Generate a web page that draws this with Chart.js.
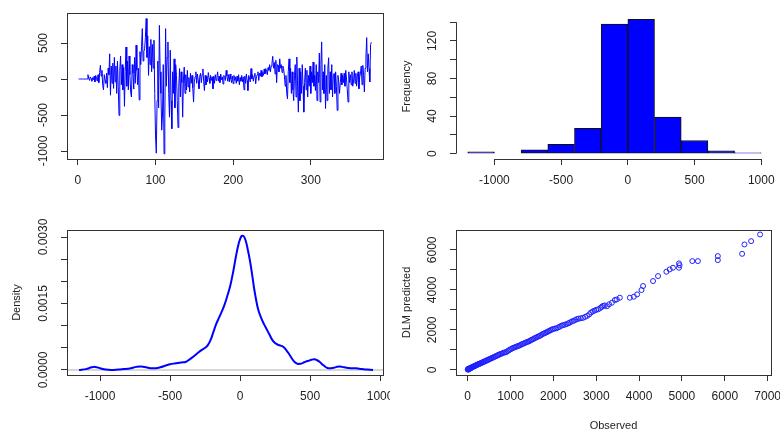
<!DOCTYPE html>
<html>
<head>
<meta charset="utf-8">
<title>DLM residuals</title>
<script src="https://cdn.jsdelivr.net/npm/chart.js@4.4.1/dist/chart.umd.min.js"></script>
<style>
    html, body { margin: 0; padding: 0; background: #fff; }
    #wrap { position: relative; width: 780px; height: 433px; overflow: hidden; }
    #wrap canvas { position: absolute; }
</style>
</head>
<body>
<div id="wrap">
    <canvas id="c1" width="390" height="216" style="left:0;top:0"></canvas>
    <canvas id="c2" width="390" height="216" style="left:390px;top:0"></canvas>
    <canvas id="c3" width="390" height="217" style="left:0;top:216px"></canvas>
    <canvas id="c4" width="390" height="217" style="left:390px;top:216px"></canvas>
</div>
<script>
// Panel 1: residual series
const tsValues = [
    0, 0, 0, 0, 0, 0, 0, 0, 0, 0, 0, 0,
    60, 10, -20, 30, 5, -30, 20, -10,
    40, -40, 50, 10, -30, 60, -50, 90, 190, 40,
    120, -90, -150, 60, -20, -60, 80, -120, 150, 60,
    350, -225, 180, -60, 220, -130, 300, -40, 180, -200,
    250, -100, -505, 120, 320, -80, 200, -150, 160, -380,
    100, 445, -100, 250, -150, 320, 60, -180, -250, 200,
    80, -140, 300, -60, 470, 120, -80, 150, -290, 380,
    200, 450, 700, 250, 380, 420, 580, 840, 300, 600,
    50, 450, 200, 550, 100, 480, 150, 540, -200, -780,
    -1030, -300, 250, -400, 745, 100, -200, -710, -500, 200,
    -1040, -600, 700, -100, 300, 515, -200, -530, 400, -300,
    -690, 100, -200, 280, -400, 200, 50, -300, -675, -100,
    145, -250, 100, -50, -530, 0, 165, -200, 60, -150,
    120, -110, 20, -180, 80, -60, 50, -120, -320, -40,
    30, 100, -60, 70, -20, -135, 40, 80, -50, 60,
    140, -30, -160, 50, -80, 40, -40, 90, 10, -60,
    50, -20, 30, -135, 40, -60, 60, -20, 20, 100,
    -30, 40, -50, 70, -10, 30, -70, 50, 20, -20,
    120, 40, -30, 60, -40, 70, 0, -50, 40, -65,
    50, -20, 30, -60, 40, -30, 60, -80, 20, -30,
    50, -40, 30, -150, 40, -60, 70, -20, -160, 50,
    20, -40, 145, 0, 60, -30, 40, 80, -65, 30,
    60, 100, -20, 80, 40, 120, 30, 90, 50, 140,
    70, 145, 110, 60, 160, 120, 200, 100, 180, 220,
    315, 150, 230, 70, 260, -50, 200, 190, 100, 280,
    150, 200, 90, 180, 145, 40, -100, 50, -200, -275,
    100, 280, -50, 150, -200, 100, -150, -300, 50, 200,
    -250, 305, -100, -460, 150, -300, 100, -200, 200, -100,
    -460, -50, 150, -150, 120, -250, 50, -100, 180, -200,
    100, -50, 235, -100, 50, -160, 200, -300, 100, -50,
    360, -320, 200, 515, -150, 100, -200, 200, -410, 50,
    -300, 150, 295, -200, 100, -150, 200, -250, 50, 75,
    -200, 100, -100, -435, 50, -40, -200, -50, 80, -80,
    50, -50, 80, -100, 120, 0, -150, -320, 100, -50,
    60, -80, 100, -100, -40, 120, -60, 80, -100, 40,
    100, -135, 30, 80, 180, -80, 190, 50, -180, 150,
    300, 575, 100, 350, 145, -40, 480, 510
];
const p1XTicks = [0, 100, 200, 300];
const p1YTicks = [-1000, -500, 0, 500];

// Panel 2: histogram
const histBreaks = [-1200, -1000, -800, -600, -400, -200, 0, 200, 400, 600, 800, 1000];
const histCounts = [2, 0, 4, 10, 27, 138, 143, 39, 14, 3, 1];
const p2XTicks = [-1000, -500, 0, 500, 1000];
const p2YTicks = [0, 20, 40, 60, 80, 100, 120, 140];
const p2YLabels = [0, 40, 80, 120];

// Panel 3: density
const densX = [-1150, -1100, -1060, -1035, -1000, -960, -920, -870, -830, -780, -740, -705, -670, -640, -600,
    -570, -530, -500, -460, -420, -390, -360, -330, -300, -270, -250, -230, -210, -190, -170, -150, -130,
    -110, -90, -70, -50, -30, -10, 10, 25, 40, 55, 70, 85, 100, 115, 130, 150, 170, 190, 210, 230, 250,
    270, 290, 310, 330, 350, 370, 390, 410, 430, 450, 470, 490, 510, 530, 550, 570, 590, 610, 630, 650,
    670, 690, 710, 730, 760, 790, 830, 870, 910, 950];
const densY = [0.00000, 0.00002, 0.00006, 0.00007, 0.00004, 0.00001, 0.00000, 0.00001, 0.00002, 0.00004,
    0.00007, 0.00008, 0.00006, 0.00004, 0.00004, 0.00006, 0.00010, 0.00013, 0.00015, 0.00017, 0.00018,
    0.00024, 0.00031, 0.00039, 0.00046, 0.00050, 0.00056, 0.00068, 0.00086, 0.00104, 0.00118, 0.00132,
    0.00148, 0.00168, 0.00190, 0.00220, 0.00255, 0.00285, 0.00302, 0.00302, 0.00292, 0.00272, 0.00248,
    0.00218, 0.00185, 0.00158, 0.00136, 0.00118, 0.00104, 0.00092, 0.00080, 0.00068, 0.00061, 0.00057,
    0.00055, 0.00052, 0.00045, 0.00036, 0.00026, 0.00018, 0.00014, 0.00014, 0.00016, 0.00019, 0.00021,
    0.00023, 0.00024, 0.00022, 0.00018, 0.00012, 0.00007, 0.00004, 0.00004, 0.00005, 0.00007, 0.00008,
    0.00007, 0.00005, 0.00004, 0.00004, 0.00002, 0.00001, 0.00000];
const p3XTicks = [-1000, -500, 0, 500, 1000];
const p3YTicks = [0, 0.0005, 0.001, 0.0015, 0.002, 0.0025, 0.003];
const p3YLabels = [0, 0.0015, 0.003];

// Panel 4: observed vs DLM predicted
const obsX = [0, 8, 15, 22, 30, 40, 48, 55, 65, 75, 85, 95, 110, 120, 135, 150, 160, 175, 190, 205, 220, 235,
    250, 265, 280, 300, 315, 330, 350, 365, 380, 400, 420, 440, 460, 480, 500, 520, 545, 565, 590, 610, 635,
    660, 685, 710, 735, 760, 790, 820, 850, 880, 910, 940, 970, 1000,
    1030, 1060, 1090, 1120, 1150, 1180, 1210, 1240, 1270, 1300, 1330, 1360, 1390, 1420, 1450, 1480, 1510,
    1540, 1570, 1600, 1630, 1660, 1690, 1720, 1750, 1780, 1810, 1840, 1870, 1900, 1930, 1960, 1990,
    2030, 2070, 2110, 2150, 2190, 2230, 2270, 2310, 2350, 2390, 2430, 2470, 2510, 2550, 2590, 2640, 2690,
    2740, 2790, 2840, 2880, 2920, 2960, 3000,
    3050, 3100, 3130, 3160, 3200, 3250, 3300, 3365, 3435, 3480, 3551,
    3784, 3877, 3954, 4056, 4093, 4326, 4442, 4637, 4714, 4791, 4930, 4930, 4945, 5242, 5372, 5837, 5837,
    6404, 6458, 6614, 6823];
const predY = [20, 45, 10, 60, 35, 70, 55, 90, 75, 110, 100, 130, 140, 150, 175, 170, 200, 210, 215, 240, 260, 265,
    290, 300, 305, 330, 350, 355, 385, 390, 410, 430, 445, 475, 480, 510, 530, 545, 575, 590, 615, 640, 660,
    690, 710, 745, 760, 790, 810, 840, 865, 880, 900, 950, 990, 1030,
    1060, 1100, 1120, 1150, 1170, 1200, 1220, 1250, 1290, 1310, 1340, 1370, 1400, 1420, 1450, 1490, 1520,
    1550, 1590, 1620, 1650, 1680, 1710, 1750, 1790, 1820, 1850, 1880, 1910, 1950, 1980, 2010, 2040,
    2060, 2080, 2120, 2160, 2210, 2240, 2260, 2290, 2330, 2370, 2420, 2450, 2490, 2540, 2560, 2580, 2600,
    2650, 2700, 2780, 2870, 2920, 2960, 3000,
    3030, 3100, 3150, 3200, 3220, 3180, 3280, 3357, 3491, 3520, 3607,
    3607, 3657, 3773, 3990, 4190, 4440, 4688, 4904, 5021, 5104, 5321, 5104, 5230, 5437, 5437, 5686, 5486,
    5800, 6268, 6434, 6767];
const p4XTicks = [0, 1000, 2000, 3000, 4000, 5000, 6000, 7000];
const p4YTicks = [0, 1000, 2000, 3000, 4000, 5000, 6000];
const p4YLabels = [0, 2000, 4000, 6000];

const FONT = '"Liberation Sans", Arial, sans-serif';
const INK = '#222';
const BLUE = '#0000ff';

Chart.defaults.font.family = FONT;
Chart.defaults.font.size = 12;
Chart.defaults.color = INK;

// R-like extras: box round the plot, rotated y tick labels, short axis lines for hist
const rStyle = {
    id: 'rStyle',
    afterDraw(chart, args, opts) {
        const { ctx, chartArea: a, scales } = chart;
        ctx.save();
        ctx.strokeStyle = '#333';
        ctx.lineWidth = 1;
        if (opts.box) {
            ctx.strokeRect(Math.round(a.left) + 0.5, Math.round(a.top) + 0.5,
                Math.round(a.right - a.left), Math.round(a.bottom - a.top));
        }
        if (opts.axisLines) {
            const xt = scales.x.ticks, yt = scales.y.ticks;
            const by = Math.round(a.bottom) + 0.5;
            const lx = Math.round(a.left) + 0.5;
            ctx.beginPath();
            ctx.moveTo(scales.x.getPixelForValue(xt[0].value), by);
            ctx.lineTo(scales.x.getPixelForValue(xt[xt.length - 1].value), by);
            ctx.moveTo(lx, scales.y.getPixelForValue(yt[0].value));
            ctx.lineTo(lx, scales.y.getPixelForValue(yt[yt.length - 1].value));
            ctx.stroke();
        }
        ctx.fillStyle = INK;
        ctx.font = '12px ' + FONT;
        ctx.textAlign = 'center';
        ctx.textBaseline = 'middle';
        (opts.yLabels || []).forEach(v => {
            const py = scales.y.getPixelForValue(v);
            ctx.save();
            ctx.translate(a.left - 23, py);
            ctx.rotate(-Math.PI / 2);
            ctx.fillText(v.toFixed(opts.decimals || 0), 0, 0);
            ctx.restore();
        });
        ctx.restore();
    }
};
Chart.register(rStyle);

function eje(min, max, ticks, size, isX, title) {
    return {
        type: 'linear',
        min: min,
        max: max,
        offset: false,
        afterBuildTicks: s => { s.ticks = ticks.map(v => ({ value: v })); },
        afterFit: s => {
            if (isX) { s.height = size; s.paddingLeft = 0; s.paddingRight = 0; }
            else { s.width = size; s.paddingTop = 0; s.paddingBottom = 0; }
        },
        ticks: {
            display: isX,
            autoSkip: false,
            minRotation: 0,
            maxRotation: 0,
            padding: 8,
            color: INK,
            font: { size: 12 },
            callback: v => String(v)
        },
        grid: { drawOnChartArea: false, drawTicks: true, tickLength: 6, color: '#333', lineWidth: 1, offset: false },
        border: { display: false },
        title: title ? {
            display: true, text: title, color: INK, font: { size: 11 },
            padding: isX ? { top: 0, bottom: 0 } : { top: 10, bottom: 0 }
        } : { display: false }
    };
}

function baseOpts(pad, scales, plug) {
    return {
        responsive: false,
        animation: false,
        devicePixelRatio: 1,
        layout: { padding: pad },
        plugins: { legend: { display: false }, tooltip: { enabled: false }, rStyle: plug },
        scales: scales
    };
}

// Panel 1
new Chart(document.getElementById('c1'), {
    type: 'line',
    data: {
        datasets: [{
            data: tsValues.map((v, i) => ({ x: i + 1, y: v })),
            borderColor: BLUE, borderWidth: 1, pointRadius: 0, tension: 0, fill: false
        }]
    },
    options: baseOpts({ left: 0, right: 7, top: 13, bottom: 0 }, {
        x: eje(-14, 393, p1XTicks, 57, true),
        y: eje(-1111, 917, p1YTicks, 67, false)
    }, { box: true, yLabels: p1YTicks })
});

// Panel 2
new Chart(document.getElementById('c2'), {
    type: 'bar',
    data: {
        datasets: [{
            data: histCounts.map((c, i) => ({ x: (histBreaks[i] + histBreaks[i + 1]) / 2, y: c })),
            backgroundColor: BLUE, borderColor: '#111', borderWidth: 1, borderSkipped: false,
            barPercentage: 1, categoryPercentage: 1
        }]
    },
    options: baseOpts({ left: 0, right: 7, top: 14, bottom: 0 }, {
        x: eje(-1288, 1088, p2XTicks, 57, true),
        y: eje(-5.7, 148.7, p2YTicks, 66, false, 'Frequency')
    }, { axisLines: true, yLabels: p2YLabels })
});

// Panel 3
new Chart(document.getElementById('c3'), {
    type: 'line',
    data: {
        datasets: [{
            data: densX.map((x, i) => ({ x: x, y: densY[i] })),
            borderColor: BLUE, borderWidth: 2, pointRadius: 0, tension: 0.4, fill: false
        }, {
            data: [{ x: -1236, y: 0 }, { x: 1021, y: 0 }],
            borderColor: '#b0b0b0', borderWidth: 1, pointRadius: 0, fill: false
        }]
    },
    options: baseOpts({ left: 0, right: 7, top: 14, bottom: 0 }, {
        x: eje(-1236, 1021, p3XTicks, 58, true),
        y: eje(-0.000113, 0.003158, p3YTicks, 67, false, 'Density')
    }, { box: true, yLabels: p3YLabels, decimals: 4 })
});

// Panel 4
new Chart(document.getElementById('c4'), {
    type: 'scatter',
    data: {
        datasets: [{
            data: obsX.map((x, i) => ({ x: x, y: predY[i] })),
            borderColor: '#2020ff', backgroundColor: 'rgba(0,0,0,0)', borderWidth: 1,
            pointRadius: 2.5, pointStyle: 'circle'
        }]
    },
    options: baseOpts({ left: 0, right: 9, top: 14, bottom: 0 }, {
        x: eje(-272, 7078, p4XTicks, 58, true, 'Observed'),
        y: eje(-255, 6990, p4YTicks, 66, false, 'DLM predicted')
    }, { box: true, yLabels: p4YLabels })
});
</script>
</body>
</html>
